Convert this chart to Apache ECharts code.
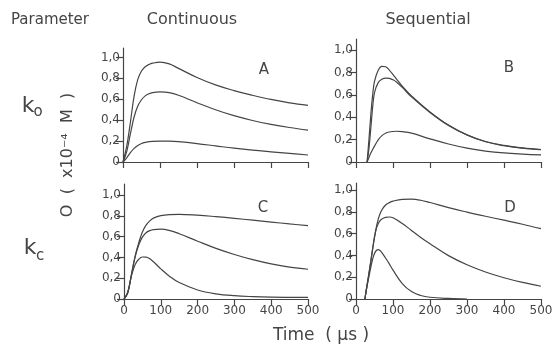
<!DOCTYPE html>
<html>
<head>
<meta charset="utf-8">
<script src="https://cdn.jsdelivr.net/npm/echarts@6/dist/echarts.min.js"></script>
<style>
    html, body { margin: 0; padding: 0; background: #fff; }
    #chart { width: 557px; height: 345px; }
</style>
</head>
<body>
<div id="chart"></div>
<script>
// time samples (us) for each panel
var timeA = [0, 10, 20, 30, 40, 50, 60, 70, 80, 100, 125, 150, 200, 250, 300, 350, 400, 450, 500]
var timeB = [30, 35, 40, 45, 50, 60, 70, 80, 90, 100, 110, 125, 150, 200, 250, 300, 350, 400, 450, 500]
var timeC = [0, 10, 20, 30, 40, 50, 60, 70, 80, 100, 125, 150, 200, 250, 300, 350, 400, 450, 500]
var timeD = [24, 30, 35, 40, 45, 50, 55, 60, 65, 70, 80, 90, 100, 125, 150, 175, 200, 250, 300, 350, 400, 450, 500]

// A: continuous, k_o
var aTop = [0, 0.15, 0.38, 0.63, 0.79, 0.87, 0.91, 0.932, 0.945, 0.955, 0.938, 0.895, 0.808, 0.737, 0.683, 0.638, 0.598, 0.566, 0.542]
var aMid = [0, 0.1, 0.27, 0.43, 0.535, 0.595, 0.632, 0.653, 0.664, 0.67, 0.663, 0.638, 0.567, 0.5, 0.443, 0.397, 0.36, 0.33, 0.305]
var aLow = [0, 0.04, 0.09, 0.13, 0.158, 0.177, 0.188, 0.194, 0.198, 0.2, 0.199, 0.194, 0.176, 0.154, 0.132, 0.113, 0.097, 0.082, 0.067]

// B: sequential, k_o
var bTop = [0, 0.2, 0.42, 0.6, 0.72, 0.82, 0.856, 0.852, 0.822, 0.782, 0.74, 0.678, 0.59, 0.448, 0.33, 0.243, 0.183, 0.148, 0.126, 0.112]
var bMid = [0, 0.12, 0.3, 0.49, 0.62, 0.71, 0.74, 0.75, 0.748, 0.735, 0.713, 0.667, 0.582, 0.443, 0.327, 0.241, 0.181, 0.146, 0.124, 0.11]
var bLow = [0, 0.04, 0.08, 0.112, 0.142, 0.198, 0.236, 0.257, 0.268, 0.273, 0.275, 0.272, 0.258, 0.207, 0.161, 0.124, 0.098, 0.081, 0.071, 0.064]

// C: continuous, k_c
var cTop = [0, 0.06, 0.23, 0.41, 0.54, 0.645, 0.71, 0.752, 0.778, 0.802, 0.812, 0.814, 0.806, 0.792, 0.776, 0.758, 0.74, 0.722, 0.705]
var cMid = [0, 0.06, 0.23, 0.4, 0.52, 0.595, 0.637, 0.658, 0.668, 0.672, 0.658, 0.628, 0.556, 0.487, 0.428, 0.378, 0.337, 0.306, 0.286]
var cLow = [0, 0.06, 0.22, 0.33, 0.382, 0.404, 0.403, 0.386, 0.358, 0.29, 0.215, 0.158, 0.087, 0.05, 0.032, 0.023, 0.018, 0.016, 0.015]

// D: sequential, k_c
var dTop = [0, 0.13, 0.235, 0.345, 0.46, 0.57, 0.66, 0.73, 0.782, 0.818, 0.862, 0.884, 0.898, 0.914, 0.916, 0.906, 0.885, 0.838, 0.797, 0.759, 0.723, 0.686, 0.645]
var dMid = [0, 0.13, 0.235, 0.345, 0.46, 0.565, 0.645, 0.69, 0.718, 0.734, 0.748, 0.752, 0.745, 0.693, 0.628, 0.565, 0.507, 0.398, 0.314, 0.248, 0.195, 0.152, 0.117]
var dLow = [0, 0.12, 0.205, 0.29, 0.365, 0.418, 0.445, 0.452, 0.444, 0.426, 0.376, 0.322, 0.265, 0.142, 0.068, 0.032, 0.016, 0.005, 0, null, null, null, null]

var yTicks = [0, 0.2, 0.4, 0.6, 0.8, 1.0]

;
(function () {
    var ink = '#454545'
    var font = 'DejaVu Sans'

    var panels = [ // grid boxes and y-axis top for each panel
        { left: 123, top: 48, width: 185, height: 114, yMax: 1.09, labels: false, t: timeA, lines: [aTop, aMid, aLow] },
        { left: 356, top: 39, width: 185, height: 123, yMax: 1.1, labels: false, t: timeB, lines: [bTop, bMid, bLow] },
        { left: 124, top: 184, width: 184, height: 115, yMax: 1.106, labels: true, t: timeC, lines: [cTop, cMid, cLow] },
        { left: 356, top: 183, width: 185, height: 116, yMax: 1.064, labels: true, t: timeD, lines: [dTop, dMid, dLow] },
    ]

    function pairs (t, v) { // [time, value] points, skipping gaps
        var out = []
        for (var i = 0; i < t.length; i++) {
            if (v[i] !== null) out.push([t[i], v[i]])
        }
        return out
    }

    function yLabel (v) {
        if (v === 0) return '0'
        return v.toFixed(1).replace('.', ',')
    }

    var grid = [], xAxis = [], yAxis = [], series = []
    panels.forEach(function (p, i) {
        grid.push({ left: p.left, top: p.top, width: p.width, height: p.height })
        xAxis.push({
            type: 'value', gridIndex: i, min: 0, max: 500, interval: 100,
            splitLine: { show: false },
            axisLine: { lineStyle: { color: ink, width: 1.2 } },
            axisTick: { length: 6, lineStyle: { color: ink, width: 1.2 } },
            axisLabel: { show: p.labels, color: ink, fontFamily: font, fontSize: 12, margin: 6 },
        })
        yAxis.push({
            type: 'value', gridIndex: i, min: 0, max: p.yMax,
            splitLine: { show: false },
            axisLine: { show: true, lineStyle: { color: ink, width: 1.2 } },
            axisTick: { show: true, length: 7, customValues: yTicks, lineStyle: { color: ink, width: 1.2 } },
            axisLabel: { color: ink, fontFamily: font, fontSize: 12, margin: 3, customValues: yTicks, formatter: yLabel },
        })
        p.lines.forEach(function (v) {
            series.push({
                type: 'line', xAxisIndex: i, yAxisIndex: i,
                data: pairs(p.t, v),
                showSymbol: false, smooth: 0.4,
                lineStyle: { color: ink, width: 1.2 },
                silent: true,
            })
        })
    })

    function txt (s, x, y, size, extra) {
        var el = {
            type: 'text', x: x, y: y,
            style: { text: s, fill: ink, font: size + 'px "' + font + '"', align: 'center', verticalAlign: 'middle' },
        }
        if (extra) for (var k in extra) el[k] = extra[k]
        return el
    }

    var graphic = [
        txt('Parameter', 50, 20, 15),
        txt('Continuous', 192, 20, 16),
        txt('Sequential', 428, 20, 16),
        txt('k', 28, 106, 22),
        txt('o', 38, 112, 15),
        txt('k', 30, 248, 22),
        txt('c', 40, 256, 15),
        txt('O  (  x10\u207B\u2074  M  )', 68, 155, 16, { rotation: Math.PI / 2 }),
        txt('Time  ( \u03BCs )', 321, 336, 17),
        txt('A', 264, 70, 15),
        txt('B', 509, 68, 15),
        txt('C', 263, 208, 15),
        txt('D', 510, 208, 15),
    ]

    var chart = echarts.init(document.getElementById('chart'))
    chart.setOption({
        animation: false,
        backgroundColor: '#fff',
        grid: grid,
        xAxis: xAxis,
        yAxis: yAxis,
        series: series,
        graphic: graphic,
    })
}())
</script>
</body>
</html>
